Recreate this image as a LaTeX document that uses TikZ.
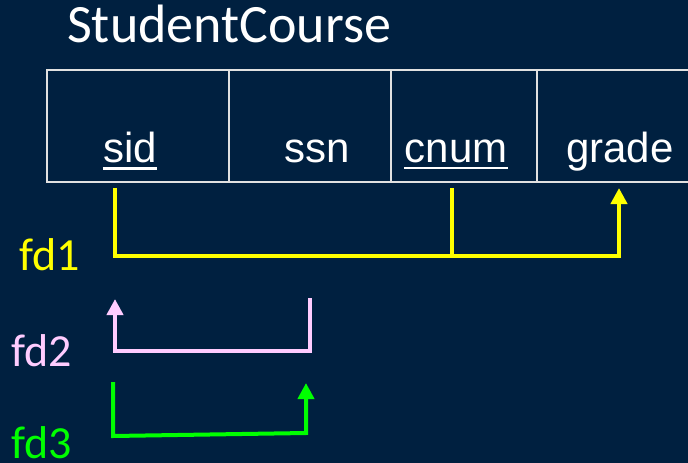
\documentclass[tikz,border=0pt]{standalone}
\usepackage{fontspec}
\setmainfont{Liberation Sans}
\newfontfamily\calibrifont{Carlito}
\usetikzlibrary{arrows.meta}
\definecolor{navy}{RGB}{0,32,64}
\definecolor{fdyellow}{RGB}{255,255,0}
\definecolor{fdpink}{RGB}{255,204,255}
\definecolor{fdgreen}{RGB}{0,255,0}
\definecolor{tablerule}{RGB}{225,225,225}
\begin{document}
\begin{tikzpicture}[x=1pt, y=-1pt, >={Triangle[length=16pt, width=16pt]}]
      \tikzset{attr/.style={text=white, inner sep=0pt, anchor=base, font=\fontsize{42}{50}\selectfont}}
      \tikzset{fdlabel/.style={inner sep=0pt, anchor=base west, font=\calibrifont\fontsize{46}{54}\selectfont}}
      \tikzset{fdline/.style={line width=4pt, line join=miter}}
      \clip (0,0) rectangle (688,463);
      \fill[navy] (0,0) rectangle (688,463);
%% Relation
      	\node[inner sep=0pt, anchor=base west, text=white, font=\calibrifont\fontsize{54}{62}\selectfont] (title) at (67,42) {StudentCourse};
      	\draw[tablerule, line width=1.5pt] (47,70) rectangle (700,182);
      	\foreach \x in {229,391,537} \draw[tablerule, line width=1.5pt] (\x,70) -- (\x,182);
%% Attributes
      	\node[attr] (sid) at (130,162) {sid};
      	\node[attr] (ssn) at (317,162) {ssn};
      	\node[attr] (cnum) at (456,162) {cnum};
      	\node[attr] (grade) at (620,162) {grade};
      	\draw[white, line width=3pt] ([yshift=-6pt]sid.base west) -- ([yshift=-6pt]sid.base east);
      	\draw[white, line width=2pt] ([yshift=-6pt]cnum.base west) -- ([yshift=-6pt]cnum.base east);
%% Labels
      	\node[fdlabel, text=fdyellow] (fd1) at (19,270) {fd1};
      	\node[fdlabel, text=fdpink] (fd2) at (11,366) {fd2};
      	\node[fdlabel, text=fdgreen] (fd3) at (11,458) {fd3};
%% End points
      	\coordinate (sid1) at (115,188);
      	\coordinate (cnum1) at (452,188);
      	\coordinate (grade1) at (619,188);
      	\coordinate (fd1l) at (115,256);
      	\coordinate (fd1m) at (452,256);
      	\coordinate (fd1r) at (619,256);
      	\coordinate (ssn2) at (310,298);
      	\coordinate (sid2) at (115,299);
      	\coordinate (fd2r) at (310,351);
      	\coordinate (fd2l) at (115,351);
      	\coordinate (sid3) at (113,382);
      	\coordinate (ssn3) at (306,383);
      	\coordinate (fd3l) at (113,436);
      	\coordinate (fd3r) at (306,433);
%Edges
		\draw[fdline, fdyellow, ->] (sid1) -- (fd1l) -- (fd1r) -- (grade1);
		\draw[fdline, fdyellow] (cnum1) -- (fd1m);
		\draw[fdline, fdpink, ->] (ssn2) -- (fd2r) -- (fd2l) -- (sid2);
		\draw[fdline, fdgreen, ->] (sid3) -- (fd3l) -- (fd3r) -- (ssn3);
	\end{tikzpicture}
\end{document}
